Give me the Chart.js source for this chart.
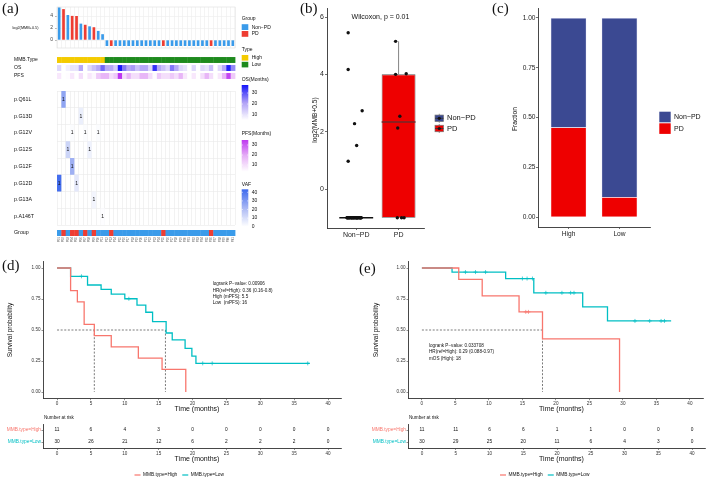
<!DOCTYPE html>
<html>
<head>
<meta charset="utf-8">
<script src="https://cdn.jsdelivr.net/npm/chart.js@4/dist/chart.umd.min.js"></script>
<style>
html,body{margin:0;padding:0;background:#fff}
#wrap{position:relative;width:708px;height:480px;overflow:hidden;background:#fff}
#wrap canvas{position:absolute;left:0;top:0}
.pl{position:absolute;font-family:"Liberation Serif","Times New Roman",serif;font-size:15px;line-height:15px;color:#111;white-space:nowrap}
</style>
</head>
<body>
<div id="wrap"></div>
<script>
// ===================== DATA =====================
const NPD = 'Non-PD', PD = 'PD';
const sampleIds = ['P01','P02','P03','P04','P05','P06','P07','P08','P09','P10',
  'P11','P12','P13','P14','P15','P16','P17','P18','P19','P20',
  'P21','P22','P23','P24','P25','P26','P27','P28','P29','P30',
  'P31','P32','P33','P34','P35','P36','P37','P38','P39','P40','P41'];
const mmbLog2 = [5.45, 5.15, 4.17, 4.02, 4.00, 2.73, 2.54, 2.28, 2.13, 1.52, 0.97,
  -1, -1, -1, -1, -1, -1, -1, -1, -1, -1,
  -1, -1, -1, -1, -1, -1, -1, -1, -1, -1,
  -1, -1, -1, -1, -1, -1, -1, -1, -1, -1];
const response = [NPD, PD, NPD, PD, PD, NPD, PD, NPD, PD, NPD, NPD,
  NPD, PD, NPD, NPD, NPD, NPD, NPD, NPD, NPD, NPD,
  NPD, NPD, NPD, PD, NPD, NPD, NPD, NPD, NPD, NPD,
  NPD, NPD, NPD, NPD, PD, NPD, NPD, NPD, NPD, NPD];
const mmbType = ['High','High','High','High','High','High','High','High','High','High','High',
  'Low','Low','Low','Low','Low','Low','Low','Low','Low','Low',
  'Low','Low','Low','Low','Low','Low','Low','Low','Low','Low',
  'Low','Low','Low','Low','Low','Low','Low','Low','Low','Low'];
const osMonths = [12, 5, 8, 10, 10, 20, 5, 12, 16, 20, 28,
  20, 20, 14, 37, 26, 20, 22, 16, 20, 20,
  12, 34, 20, 16, 12, 26, 20, 12, 10, 5,
  12, 5, 12, 10, 16, 5, 12, 20, 36, 24];
const pfsMonths = [8, 3, 4, 8, 3, 10, 3, 8, 5, 14, 18,
  18, 10, 14, 35, 10, 18, 10, 10, 18, 18,
  10, 4, 14, 10, 10, 14, 10, 18, 8, 3,
  8, 3, 10, 18, 10, 3, 8, 18, 33, 14];
const annoRows = ['MMB.Type', 'OS', 'PFS'];
const mutRows = ['p.Q61L','p.G13D','p.G12V','p.G12S','p.G12F','p.G12D','p.G13A','p.A146T'];
const mutRowIdx = [0, 1, 2, 2, 2, 3, 3, 4, 5, 5, 6, 7];
const mutCol    = [1, 5, 3, 6, 9, 2, 7, 3, 0, 4, 8, 10];
const mutVaf    = [27, 5, 1, 1, 1, 13, 4, 24, 42, 7, 3, 0.5];
const osRange = [5.5, 37.3], pfsRange = [3.3, 35], vafRange = [0, 43.5];
const osLegendTicks = [10, 20, 30], pfsLegendTicks = [10, 20, 30], vafLegendTicks = [0, 10, 20, 30, 40];

// panel b
const boxCats = ['Non\u2212PD', 'PD'];
const nonPdValues = [5.45, 4.17, 2.73, 2.28, 1.52, 0.97,
  -1, -1, -1, -1, -1, -1, -1, -1, -1, -1, -1, -1, -1, -1,
  -1, -1, -1, -1, -1, -1, -1, -1, -1, -1, -1, -1, -1];
const nonPdX = [0.81, 0.81, 1.14, 0.96, 1.01, 0.81,
  0.78, 0.80, 0.83, 0.86, 0.88, 0.90, 0.93, 0.95, 0.97, 1.00, 1.02, 1.04, 1.06, 1.09,
  1.11, 0.79, 0.84, 0.89, 0.94, 0.99, 1.03, 1.08, 1.12, 0.82, 0.91, 1.01, 1.10];
const pdValues = [5.15, 4.00, 4.02, 2.54, 2.13, -1, -1, -1];
const pdX = [1.93, 1.93, 2.18, 2.03, 1.98, 1.97, 2.13, 2.07];
const boxLow = [-1, -1], boxQ1 = [-1, -1], boxMedian = [-1, 2.335], boxQ3 = [-1, 4.0], boxHigh = [-1, 5.15];
const wilcoxText = 'Wilcoxon, p = 0.01';

// panel c
const mmbGroups = ['High', 'Low'];
const fracPD = [0.45, 0.10];
const fracNonPD = [0.55, 0.90];

// panels d, e
const kmGroups = ['MMB.type=High', 'MMB.type=Low'];
const pfsHighT = [0, 2, 3, 4, 5.5, 8, 12, 15.5, 19];
const pfsHighS = [1, 0.818, 0.727, 0.545, 0.455, 0.364, 0.273, 0.182, 0];
const pfsLowT = [0, 2, 4.5, 6.5, 8, 10, 11.8, 13.1, 14.1, 16.1, 17, 18.9, 19.9, 20.5, 37.3];
const pfsLowS = [1, 0.933, 0.863, 0.828, 0.79, 0.752, 0.70, 0.643, 0.567, 0.476, 0.42, 0.352, 0.29, 0.231, 0.231];
const pfsLowCensT = [3.6, 10.6, 21.5, 22.9, 37.0];
const pfsLowCensS = [0.933, 0.752, 0.231, 0.231, 0.231];
const pfsMedians = [5.5, 16];
const pfsNotes = ['logrank P\u2212value: 0.00906', 'HR(ref=High): 0.36 (0.16-0.8)', 'High (mPFS): 5.5', 'Low  (mPFS): 16'];

const osHighT = [0, 5.5, 9, 14.5, 18, 29.5];
const osHighS = [1, 0.909, 0.775, 0.646, 0.429, 0];
const osHighCensT = [15.5, 15.9];
const osHighCensS = [0.646, 0.646];
const osLowT = [0, 4.5, 12.5, 16.7, 24, 27.7, 37.2];
const osLowS = [1, 0.967, 0.915, 0.80, 0.686, 0.573, 0.573];
const osLowCensT = [6.5, 8.0, 9.5, 15.0, 15.7, 16.5, 18.5, 20.9, 22.2, 22.7, 31.8, 34.0, 35.7, 36.2];
const osLowCensS = [0.967, 0.967, 0.967, 0.915, 0.915, 0.915, 0.80, 0.80, 0.80, 0.80, 0.573, 0.573, 0.573, 0.573];
const osMedians = [18];
const osNotes = ['logrank P\u2212value: 0.033708', 'HR(ref=High): 0.29 (0.088-0.97)', 'mOS (High): 18'];

const riskTimes = [0, 5, 10, 15, 20, 25, 30, 35, 40];
const pfsRiskHigh = [11, 6, 4, 3, 0, 0, 0, 0, 0];
const pfsRiskLow = [30, 26, 21, 12, 6, 2, 2, 2, 0];
const osRiskHigh = [11, 11, 6, 6, 1, 1, 0, 0, 0];
const osRiskLow = [30, 29, 25, 20, 11, 6, 4, 3, 0];

// ===================== STYLE =====================
const SANS = '"Liberation Sans", Arial, sans-serif';
const C_NONPD_A = '#3A9BEA', C_PD_A = '#EE3D32';
const C_HIGH = '#F4CB00', C_LOW = '#1E8A1E';
const C_NONPD = '#3B4992', C_PD = '#EE0000';
const C_KH = '#F8766D', C_KL = '#00BFC4';
const groupColor = {'Non-PD': C_NONPD_A, 'PD': C_PD_A};
const typeColor = {'High': C_HIGH, 'Low': C_LOW};

function ramp(stops) {
  return function (t) {
    t = Math.max(0, Math.min(1, t));
    for (let i = 1; i < stops.length; i++) {
      if (t <= stops[i][0]) {
        const a = stops[i - 1], b = stops[i];
        const f = (t - a[0]) / (b[0] - a[0]);
        return 'rgb(' + a[1].map((v, k) => Math.round(v + (b[1][k] - v) * f)).join(',') + ')';
      }
    }
    return 'rgb(' + stops[stops.length - 1][1].join(',') + ')';
  };
}
const osRamp = ramp([[0, [255, 255, 255]], [0.5, [175, 160, 246]], [1, [20, 20, 250]]]);
const pfsRamp = ramp([[0, [255, 255, 255]], [0.5, [230, 176, 246]], [1, [190, 55, 240]]]);
const vafRamp = ramp([[0, [255, 255, 255]], [0.5, [170, 184, 244]], [1, [60, 105, 238]]]);
const norm = (v, r) => (v - r[0]) / (r[1] - r[0]);

Chart.defaults.font.family = SANS;
Chart.defaults.color = '#333';
Chart.defaults.animation = false;
Chart.defaults.responsive = false;
Chart.defaults.maintainAspectRatio = false;
Chart.defaults.devicePixelRatio = 1;
Chart.defaults.events = [];
Chart.defaults.plugins.legend.display = false;
Chart.defaults.plugins.tooltip.enabled = false;

const wrap = document.getElementById('wrap');
function newCtx() {
  const c = document.createElement('canvas');
  c.width = 708; c.height = 480;
  c.style.width = '708px'; c.style.height = '480px';
  wrap.appendChild(c);
  return c.getContext('2d');
}
function fit(size) {
  return function (s) {
    if (s.isHorizontal()) s.height = size; else s.width = size;
    s.paddingTop = 0; s.paddingBottom = 0; s.paddingLeft = 0; s.paddingRight = 0;
  };
}
function pad(area, yw, xh) {
  return {left: area[0] - yw, top: area[1], right: 708 - area[2], bottom: 480 - area[3] - xh};
}
function T(ctx, s, x, y, size, opt) {
  opt = opt || {};
  ctx.save();
  ctx.font = (opt.weight ? opt.weight + ' ' : '') + size + 'px ' + (opt.family || SANS);
  ctx.fillStyle = opt.color || '#111';
  ctx.textAlign = opt.align || 'left';
  ctx.textBaseline = 'middle';
  if (opt.rot) { ctx.translate(x, y); ctx.rotate(opt.rot); ctx.fillText(s, 0, 0); }
  else ctx.fillText(s, x, y);
  ctx.restore();
}
function line(ctx, x1, y1, x2, y2, color, w, dash) {
  ctx.save(); ctx.strokeStyle = color; ctx.lineWidth = w; if (dash) ctx.setLineDash(dash);
  ctx.beginPath(); ctx.moveTo(x1, y1); ctx.lineTo(x2, y2); ctx.stroke(); ctx.restore();
}
const pts = (xs, ys) => xs.map((x, i) => ({x: x, y: ys[i]}));

// ===================== PANEL A : top bar chart =====================
const A_L = 57, A_R = 235;
new Chart(newCtx(), {
  type: 'bar',
  data: {labels: sampleIds, datasets: [{
    data: mmbLog2, backgroundColor: response.map(g => groupColor[g]),
    barPercentage: 0.62, categoryPercentage: 1
  }]},
  options: {
    layout: {padding: pad([A_L, 7, A_R, 48], 20, 0)},
    scales: {
      x: {offset: true, grid: {offset: true, color: '#ECECEC', lineWidth: 0.6, drawTicks: false},
          ticks: {display: false}, border: {display: false}, afterFit: fit(0)},
      y: {min: -1.33, max: 5.5, ticks: {stepSize: 2, includeBounds: false, font: {size: 5}, color: '#444', padding: 2},
          grid: {color: '#ECECEC', lineWidth: 0.6, tickLength: 2, tickColor: '#888'},
          border: {display: false}, afterFit: fit(20)}
    }
  },
  plugins: [{id: 'a1', afterDraw(c) {
    const ctx = c.ctx, a = c.chartArea;
    ctx.save(); ctx.strokeStyle = '#DDDDDD'; ctx.lineWidth = 0.6;
    ctx.strokeRect(a.left, a.top, a.right - a.left, a.bottom - a.top); ctx.restore();
    T(ctx, 'log2(MMB+0.5)', 38.5, 27.7, 3.8, {align: 'right'});
  }}]
});

// ===================== PANEL A : annotation rows =====================
new Chart(newCtx(), {
  type: 'scatter',
  data: {datasets: []},
  options: {
    layout: {padding: pad([A_L, 56, A_R, 80], 43, 0)},
    scales: {
      x: {type: 'category', labels: sampleIds, offset: true, grid: {display: false}, ticks: {display: false},
          border: {display: false}, afterFit: fit(0)},
      y: {type: 'category', labels: annoRows, offset: true, grid: {display: false, drawTicks: false},
          border: {display: false}, ticks: {autoSkip: false, crossAlign: 'far', font: {size: 5}, color: '#111', padding: 0},
          afterFit: fit(43)}
    }
  },
  plugins: [{id: 'anno', afterDatasetsDraw(c) {
    const ctx = c.ctx, x = c.scales.x, y = c.scales.y;
    const cw = x.getPixelForValue(1) - x.getPixelForValue(0);
    const rh = y.getPixelForValue(1) - y.getPixelForValue(0);
    const h = rh * 0.74;
    sampleIds.forEach((s, i) => {
      const cx = x.getPixelForValue(i);
      const cols = [typeColor[mmbType[i]], osRamp(norm(osMonths[i], osRange)), pfsRamp(norm(pfsMonths[i], pfsRange))];
      cols.forEach((col, r) => {
        const cy = y.getPixelForValue(r);
        ctx.fillStyle = col;
        ctx.fillRect(cx - cw / 2, cy - h / 2, cw + 0.4, h);
      });
    });
  }}]
});

// ===================== PANEL A : mutation heatmap =====================
new Chart(newCtx(), {
  type: 'scatter',
  data: {datasets: []},
  options: {
    layout: {padding: pad([A_L, 91, A_R, 225], 43, 0)},
    scales: {
      x: {type: 'category', labels: sampleIds, offset: true, grid: {offset: true, color: '#E9E9E9', lineWidth: 0.6, drawTicks: false},
          ticks: {display: false}, border: {display: false}, afterFit: fit(0)},
      y: {type: 'category', labels: mutRows, offset: true, grid: {offset: true, color: '#E9E9E9', lineWidth: 0.6, drawTicks: false},
          border: {display: false}, ticks: {autoSkip: false, crossAlign: 'far', font: {size: 5.3}, color: '#111', padding: 0},
          afterFit: fit(43)}
    }
  },
  plugins: [{id: 'heat', afterDatasetsDraw(c) {
    const ctx = c.ctx, x = c.scales.x, y = c.scales.y;
    const cw = x.getPixelForValue(1) - x.getPixelForValue(0);
    const rh = y.getPixelForValue(1) - y.getPixelForValue(0);
    mutCol.forEach((col, k) => {
      const cx = x.getPixelForValue(col), cy = y.getPixelForValue(mutRowIdx[k]);
      ctx.fillStyle = vafRamp(norm(mutVaf[k], vafRange));
      ctx.fillRect(cx - cw / 2, cy - rh / 2, cw, rh);
      T(ctx, '1', cx, cy, 5, {align: 'center'});
    });
  }}]
});

// ===================== PANEL A : group row + legends =====================
new Chart(newCtx(), {
  type: 'scatter',
  data: {datasets: []},
  options: {
    layout: {padding: pad([A_L, 230, A_R, 236], 43, 11)},
    scales: {
      x: {type: 'category', labels: sampleIds, offset: true, grid: {display: false, drawTicks: false},
          ticks: {autoSkip: false, minRotation: 90, maxRotation: 90, font: {size: 3}, color: '#666', padding: 1},
          border: {display: false}, afterFit: fit(11)},
      y: {type: 'category', labels: ['Group'], offset: true, grid: {display: false, drawTicks: false},
          border: {display: false}, ticks: {autoSkip: false, crossAlign: 'far', font: {size: 5.3}, color: '#111', padding: 0},
          afterFit: fit(43)}
    }
  },
  plugins: [{id: 'grp', afterDatasetsDraw(c) {
    const ctx = c.ctx, x = c.scales.x, y = c.scales.y;
    const cw = x.getPixelForValue(1) - x.getPixelForValue(0);
    const a = c.chartArea;
    response.forEach((g, i) => {
      const cx = x.getPixelForValue(i);
      ctx.fillStyle = groupColor[g];
      ctx.fillRect(cx - cw / 2, a.top, cw + 0.4, a.bottom - a.top);
    });
    // ---- legends of panel a ----
    const LX = 241.7, TX = 251.7, SW = 6.6, FS = 5;
    T(ctx, 'Group', LX, 19, FS);
    ctx.fillStyle = C_NONPD_A; ctx.fillRect(LX, 24.2, SW, 5.8);
    ctx.fillStyle = C_PD_A; ctx.fillRect(LX, 31, SW, 5.8);
    T(ctx, 'Non\u2212PD', TX, 27.2, FS); T(ctx, 'PD', TX, 34, FS);
    T(ctx, 'Type', LX, 50, FS);
    ctx.fillStyle = C_HIGH; ctx.fillRect(LX, 55, SW, 5.6);
    ctx.fillStyle = C_LOW; ctx.fillRect(LX, 61.8, SW, 5.6);
    T(ctx, 'High', TX, 57.8, FS); T(ctx, 'Low', TX, 64.6, FS);
    function grad(title, ty, top, h, rng, rfn, ticks) {
      T(ctx, title, LX, ty, FS);
      const g = ctx.createLinearGradient(0, top + h, 0, top);
      for (let i = 0; i <= 10; i++) g.addColorStop(i / 10, rfn(i / 10));
      ctx.fillStyle = g; ctx.fillRect(LX, top, SW, h);
      ticks.forEach(v => {
        const yy = top + h - norm(v, rng) * h;
        line(ctx, LX, yy, LX + 1.2, yy, '#fff', 0.6);
        line(ctx, LX + SW - 1.2, yy, LX + SW, yy, '#fff', 0.6);
        T(ctx, String(v), TX, yy, FS);
      });
    }
    grad('OS(Months)', 80, 85, 35, osRange, osRamp, osLegendTicks);
    grad('PFS(Months)', 133.3, 140, 31.7, pfsRange, pfsRamp, pfsLegendTicks);
    grad('VAF', 185, 189.3, 37.4, vafRange, vafRamp, vafLegendTicks);
  }}]
});

// ===================== PANEL B : box plot =====================
new Chart(newCtx(), {
  type: 'bar',
  data: {datasets: [
    {type: 'bar', data: boxCats.map((cat, i) => ({x: i + 1, y: [boxQ1[i], boxQ3[i]]})),
     backgroundColor: [C_NONPD, C_PD], borderColor: '#5a5a5a', borderWidth: 0.8, borderSkipped: false,
     barPercentage: 0.8, categoryPercentage: 1, order: 3},
    {type: 'scatter', data: pts(nonPdX, nonPdValues), pointRadius: 1.7, pointBackgroundColor: '#111',
     pointBorderWidth: 0, order: 1},
    {type: 'scatter', data: pts(pdX, pdValues), pointRadius: 1.7, pointBackgroundColor: '#111',
     pointBorderWidth: 0, order: 1}
  ]},
  options: {
    layout: {padding: pad([327, 8.4, 424, 228], 10, 14)},
    scales: {
      x: {type: 'linear', min: 0.31, max: 2.6, offset: false,
          ticks: {stepSize: 1, includeBounds: false, callback: v => boxCats[v - 1] || '', font: {size: 7}, color: '#222', padding: 1, maxRotation: 0},
          grid: {offset: false, drawOnChartArea: false, tickLength: 2, color: '#333', lineWidth: 0.7},
          border: {color: '#333', width: 0.9}, afterFit: fit(14)},
      y: {min: -1.36, max: 6.3,
          ticks: {stepSize: 2, includeBounds: false, font: {size: 7}, color: '#222', padding: 1},
          grid: {drawOnChartArea: false, tickLength: 2, color: '#333', lineWidth: 0.7},
          border: {color: '#333', width: 0.9}, afterFit: fit(10)}
    }
  },
  plugins: [{id: 'box', afterDatasetDraw(c, args) {
    if (args.index !== 0) return;
    const ctx = c.ctx, x = c.scales.x, y = c.scales.y;
    const hw = (x.getPixelForValue(2) - x.getPixelForValue(1)) * 0.4;
    boxCats.forEach((cat, i) => {
      const cx = x.getPixelForValue(i + 1);
      line(ctx, cx, y.getPixelForValue(boxQ3[i]), cx, y.getPixelForValue(boxHigh[i]), '#777', 0.9);
      line(ctx, cx, y.getPixelForValue(boxQ1[i]), cx, y.getPixelForValue(boxLow[i]), '#777', 0.9);
      const my = y.getPixelForValue(boxMedian[i]);
      line(ctx, cx - hw, my, cx + hw, my, i === 0 ? '#111' : '#6E2A2A', 1.4);
    });
  }, afterDraw(c) {
    const ctx = c.ctx;
    T(ctx, wilcoxText, 380.5, 17.3, 7, {align: 'center'});
    T(ctx, 'log2(MMB+0.5)', 315, 120, 6.6, {align: 'center', rot: -Math.PI / 2});
    // legend
    const keys = [[boxCats[0], C_NONPD, 118.3], [boxCats[1], C_PD, 128.5]];
    keys.forEach(k => {
      const x0 = 435, w = 8.5, h = 6.5, yc = k[2];
      line(ctx, x0 + w / 2, yc - 4.5, x0 + w / 2, yc + 4.5, '#777', 0.8);
      ctx.fillStyle = k[1]; ctx.fillRect(x0, yc - h / 2, w, h);
      ctx.strokeStyle = '#777'; ctx.lineWidth = 0.7; ctx.strokeRect(x0, yc - h / 2, w, h);
      line(ctx, x0, yc, x0 + w, yc, '#333', 0.8);
      ctx.fillStyle = '#111'; ctx.beginPath(); ctx.arc(x0 + w / 2, yc, 1.6, 0, Math.PI * 2); ctx.fill();
      T(ctx, k[0], 447, yc, 7.5);
    });
  }}]
});

// ===================== PANEL C : stacked fraction =====================
new Chart(newCtx(), {
  type: 'bar',
  data: {datasets: [
    {label: 'PD', data: fracPD.map((v, i) => ({x: i + 1, y: v})), backgroundColor: C_PD,
     borderColor: 'rgba(255,210,220,0.8)', borderWidth: 0.5, barPercentage: 0.7, categoryPercentage: 1},
    {label: 'Non\u2212PD', data: fracNonPD.map((v, i) => ({x: i + 1, y: v})), backgroundColor: C_NONPD,
     borderColor: 'rgba(200,200,240,0.8)', borderWidth: 0.5, barPercentage: 0.7, categoryPercentage: 1}
  ]},
  options: {
    layout: {padding: pad([538, 8, 650, 227], 22, 13)},
    scales: {
      x: {type: 'linear', stacked: true, min: 0.4, max: 2.6, offset: false,
          ticks: {stepSize: 1, includeBounds: false, callback: v => mmbGroups[v - 1] || '', font: {size: 6.6}, color: '#222', padding: 1, maxRotation: 0},
          grid: {offset: false, drawOnChartArea: false, tickLength: 2, color: '#333', lineWidth: 0.7},
          border: {color: '#333', width: 0.9}, afterFit: fit(13)},
      y: {stacked: true, min: -0.05, max: 1.05,
          ticks: {stepSize: 0.25, includeBounds: false, callback: v => v.toFixed(2), font: {size: 6.6}, color: '#222', padding: 0.5},
          grid: {drawOnChartArea: false, tickLength: 2, color: '#333', lineWidth: 0.7},
          border: {color: '#333', width: 0.9}, afterFit: fit(22)}
    }
  },
  plugins: [{id: 'cleg', afterDraw(c) {
    const ctx = c.ctx;
    T(ctx, 'Fraction', 515, 119, 6.6, {align: 'center', rot: -Math.PI / 2});
    const ds = c.data.datasets;
    const order = [1, 0], ys = [111.7, 123.3];
    order.forEach((k, j) => {
      ctx.fillStyle = ds[k].backgroundColor; ctx.fillRect(659.3, ys[j], 11.4, 10.6);
      T(ctx, ds[k].label, 674, ys[j] + 5.3, 7);
    });
  }}]
});

// ===================== KM helpers =====================
function kmScales(yw) {
  return {
    x: {type: 'linear', min: -2, max: 42,
        ticks: {stepSize: 5, includeBounds: false, font: {size: 4.6}, color: '#333', padding: 1, maxRotation: 0},
        grid: {drawOnChartArea: false, tickLength: 2, color: '#444', lineWidth: 0.6},
        border: {color: '#333', width: 0.9}, afterFit: fit(12)},
    y: {type: 'linear', min: -0.05, max: 1.05,
        ticks: {stepSize: 0.25, includeBounds: false, callback: v => v.toFixed(2), font: {size: 4.6}, color: '#333', padding: 1},
        grid: {drawOnChartArea: false, tickLength: 2, color: '#444', lineWidth: 0.6},
        border: {color: '#333', width: 0.9}, afterFit: fit(yw)}
  };
}
function stepSet(t, s, color) {
  return {data: pts(t, s), showLine: true, stepped: true, borderColor: color, borderWidth: 1.3, pointRadius: 0, order: 1};
}
function censSet(t, s, color) {
  return {data: pts(t, s), showLine: false, pointStyle: 'cross', pointRadius: 2, borderColor: color, pointBorderColor: color, pointBorderWidth: 0.7, order: 0};
}
function dashSet(p) {
  return {data: p, showLine: true, borderColor: '#222', borderWidth: 0.6, borderDash: [2, 1.6], pointRadius: 0, order: 2};
}
function medianSets(meds) {
  const last = Math.max.apply(null, meds);
  const sets = [dashSet([{x: 0, y: 0.5}, {x: last, y: 0.5}])];
  meds.forEach(m => sets.push(dashSet([{x: m, y: 0.5}, {x: m, y: 0}])));
  return sets;
}
function kmChart(area, datasets, notes, notePos, yTitleX, xTitleX) {
  new Chart(newCtx(), {
    type: 'scatter',
    data: {datasets: datasets},
    options: {layout: {padding: pad(area, 20, 12)}, scales: kmScales(20)},
    plugins: [{id: 'kmtxt', afterDraw(c) {
      const ctx = c.ctx;
      notes.forEach((s, i) => T(ctx, s, notePos[0], notePos[1] + i * notePos[2], 4.6));
      T(ctx, 'Survival probability', yTitleX, 330, 6.5, {align: 'center', rot: -Math.PI / 2});
      T(ctx, 'Time (months)', xTitleX, 409, 7, {align: 'center'});
    }}]
  });
}
function riskChart(area, yw, counts, xTitleX, legendX) {
  new Chart(newCtx(), {
    type: 'scatter',
    data: {datasets: kmGroups.map((g, k) => ({label: g, data: riskTimes.map(t => ({x: t, y: g})), pointRadius: 0,
      borderColor: [C_KH, C_KL][k]}))},
    options: {
      layout: {padding: pad(area, yw, 12)},
      scales: {
        x: kmScales(0).x,
        y: {type: 'category', labels: kmGroups, offset: true,
            ticks: {autoSkip: false, font: {size: 4.8}, color: c => [C_KH, C_KL][c.index], padding: 0.5},
            grid: {drawOnChartArea: false, tickLength: 2, color: '#444', lineWidth: 0.6},
            border: {color: '#333', width: 0.9}, afterFit: fit(yw)}
      }
    },
    plugins: [{id: 'risk', afterDraw(c) {
      const ctx = c.ctx;
      c.data.datasets.forEach((ds, k) => {
        c.getDatasetMeta(k).data.forEach((p, i) => T(ctx, String(counts[k][i]), p.x, p.y, 4.8, {align: 'center'}));
      });
      T(ctx, 'Number at risk', area[0] + 0.5, 418, 4.6);
      T(ctx, 'Time (months)', xTitleX, 459, 7, {align: 'center'});
      // bottom legend
      ctx.save(); ctx.font = '4.8px ' + SANS;
      const w1 = ctx.measureText(kmGroups[0]).width, w2 = ctx.measureText(kmGroups[1]).width;
      ctx.restore();
      let x0 = legendX;
      c.data.datasets.forEach((ds, k) => {
        line(ctx, x0, 475, x0 + 6, 475, ds.borderColor, 1.2);
        T(ctx, ds.label, x0 + 8.5, 475, 4.8);
        x0 += 8.5 + (k === 0 ? w1 : w2) + 5;
      });
    }}]
  });
}

// ===================== PANEL D : PFS =====================
const areaD = [43.5, 261.8, 341.6, 398.2];
kmChart(areaD,
  [stepSet(pfsHighT, pfsHighS, C_KH), stepSet(pfsLowT, pfsLowS, C_KL), censSet(pfsLowCensT, pfsLowCensS, C_KL)]
    .concat(medianSets(pfsMedians)),
  pfsNotes, [212.7, 284, 6.3], 10, 197);
riskChart([43.5, 424, 341.6, 448], 43.5, [pfsRiskHigh, pfsRiskLow], 197, 134.5);

// ===================== PANEL E : OS =====================
const areaE = [408.5, 261.8, 705.5, 398.2];
kmChart(areaE,
  [stepSet(osHighT, osHighS, C_KH), stepSet(osLowT, osLowS, C_KL), censSet(osLowCensT, osLowCensS, C_KL),
   censSet(osHighCensT, osHighCensS, C_KH)].concat(medianSets(osMedians)),
  osNotes, [429, 345.3, 6.9], 376, 561.5);
riskChart([408.5, 424, 705.5, 448], 54.5, [osRiskHigh, osRiskLow], 561.5, 500);

// ===================== panel labels =====================
[['(a)', 2, 0.5], ['(b)', 300, 0.5], ['(c)', 492, 0.5], ['(d)', 2, 257.5], ['(e)', 359, 260.5]].forEach(l => {
  const d = document.createElement('div');
  d.className = 'pl'; d.textContent = l[0];
  d.style.left = l[1] + 'px'; d.style.top = l[2] + 'px';
  wrap.appendChild(d);
});
</script>
</body>
</html>
